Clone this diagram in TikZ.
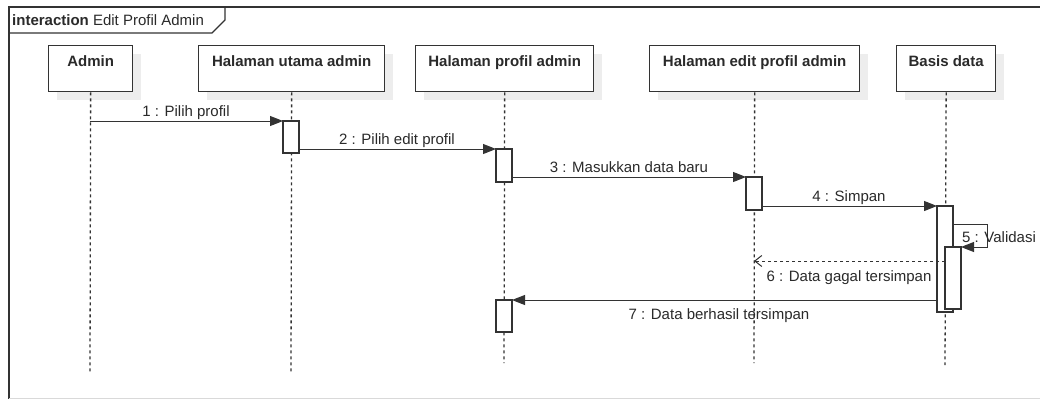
\documentclass[tikz,border=0pt]{standalone}
\usepackage{fontspec}
\setmainfont{Liberation Sans}
\usetikzlibrary{arrows.meta,shadows}
\definecolor{ink}{HTML}{333333}
\definecolor{txt}{HTML}{2a2a2a}
\begin{document}
\begin{tikzpicture}[x=1pt,y=-1pt,
  font=\fontsize{15}{18}\selectfont, text=txt,
  head/.style={draw=ink, line width=1.3pt, fill=white, inner xsep=0pt, inner ysep=0pt,
    text height=21pt, text depth=25pt, minimum height=46pt, anchor=north west,
    font=\fontsize{15}{18}\selectfont\bfseries,
    drop shadow={shadow xshift=8pt, shadow yshift=-8pt, fill=black!7, opacity=1}},
  life/.style={draw=ink, line width=1.3pt, dash pattern=on 3pt off 3pt},
  act/.style={draw=ink, line width=1.3pt, fill=white, minimum width=16pt,
    inner sep=0pt, outer sep=0pt, anchor=north},
  msg/.style={draw=ink, line width=1pt, -{Triangle[length=13pt,width=10pt]}},
  reply/.style={draw=ink, line width=1pt, dash pattern=on 3pt off 3pt,
    -{Straight Barb[length=7pt,width=11pt]}},
  lbl/.style={anchor=base, inner sep=0pt},
]
\useasboundingbox (0,0) rectangle (1040,399);
\clip (0,0) rectangle (1040,399);
\fill[white] (0,0) rectangle (1040,399);

% interaction frame and its title tab
\draw[ink, line width=1.3pt] (1045,7) -- (9,7) -- (9,399);
\draw[black!15, line width=1pt] (9,398) -- (1045,398);
\draw[ink, line width=1.3pt] (9,33) -- (212,33) -- (225,20) -- (225,7);
\node[anchor=base west, inner sep=0pt] (title) at (12,25)
  {\textbf{interaction} Edit Profil Admin};

% lifeline heads
\node[head, minimum width=84pt]  (admin) at (48,45)  {Admin};
\node[head, minimum width=186pt] (utama) at (198,45) {Halaman utama admin};
\node[head, minimum width=178pt] (profil) at (415,45) {Halaman profil admin};
\node[head, minimum width=210pt] (edit) at (649,45) {Halaman edit profil admin};
\node[head, minimum width=99pt]  (basis) at (896,45) {Basis data};

% lifeline ends
\coordinate (admin-end)  at (90,372);
\coordinate (utama-end)  at (291,372);
\coordinate (profil-end) at (504,363);
\coordinate (edit-end)   at (754,363);
\coordinate (basis-end)  at (945,365);

\draw[life] (admin.south)  -- (admin-end);
\draw[life] (utama.south)  -- (utama-end);
\draw[life] (profil.south) -- (profil-end);
\draw[life] (edit.south)   -- (edit-end);
\draw[life] (basis.south)  -- (basis-end);

% activation bars
\node[act, minimum height=32pt]  (a1) at (291,121) {};
\node[act, minimum height=33pt]  (a2) at (504,149) {};
\node[act, minimum height=33pt]  (a3) at (754,177) {};
\node[act, minimum height=106pt] (a4) at (945,206) {};
\node[act, minimum height=62pt]  (a5) at (953,247) {};
\node[act, minimum height=32pt]  (a6) at (504,300) {};

% message end points
\coordinate (m1s) at (90,121);
\coordinate (m5a) at (987,224);
\coordinate (m5b) at (987,247);
\coordinate (m6e) at (754,261);

% messages
\draw[msg] (m1s) -- (a1.north west);
\draw[msg] (a1.east |- a2.north) -- (a2.north west);
\draw[msg] (a2.east |- a3.north) -- (a3.north west);
\draw[msg] (a3.east |- a4.north) -- (a4.north west);
\draw[msg] (a4.east |- m5a) -- (m5a) -- (m5b) -- (a5.north east);
\draw[reply] (a5.west |- m6e) -- (m6e);
\draw[msg] (a4.west |- a6.north) -- (a6.north east);

% message labels
\node[lbl] (l1) at (186,116) {1 : Pilih profil};
\node[lbl] (l2) at (397,144) {2 : Pilih edit profil};
\node[lbl] (l3) at (629,172) {3 : Masukkan data baru};
\node[lbl] (l4) at (849,201) {4 : Simpan};
\node[lbl, anchor=base west] (l5) at (962,242) {5 : Validasi};
\node[lbl] (l6) at (849,281) {6 : Data gagal tersimpan};
\node[lbl] (l7) at (719,319) {7 : Data berhasil tersimpan};
\end{tikzpicture}
\end{document}
